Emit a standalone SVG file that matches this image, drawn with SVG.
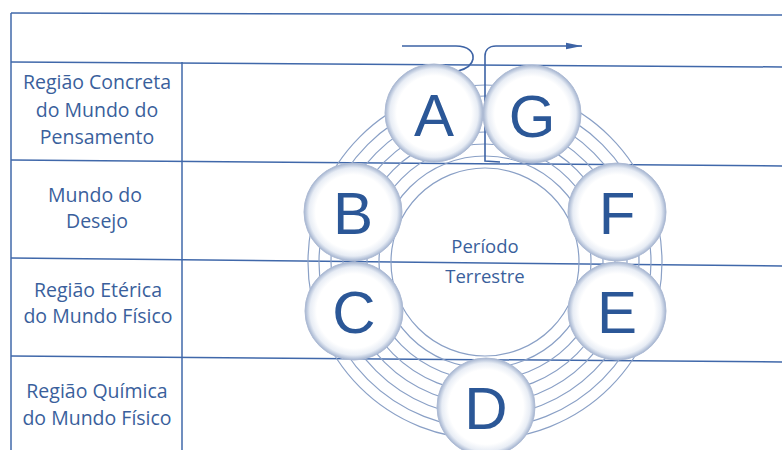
<svg xmlns="http://www.w3.org/2000/svg" width="782" height="450" viewBox="0 0 782 450">
<style>
.tl{stroke:#4068aa;stroke-width:1.5;fill:none}
.ring{stroke:#8aa0c6;stroke-width:1.2;fill:none}
.lab{font-family:"Open Sans","Noto Sans",sans-serif;font-size:19.5px;fill:#3a5f9c;text-anchor:middle}
.ctr{font-family:"Open Sans","Noto Sans",sans-serif;font-size:18.5px;fill:#3a5f9c;text-anchor:middle}
.ball{fill:url(#bg);stroke:#aebbd4;stroke-width:1}
.let{font-family:"Liberation Sans",Arial,sans-serif;font-size:60px;fill:#2b5797;text-anchor:middle}
.con{stroke:#3d63a5;stroke-width:1.6;fill:none}
</style>
<defs>
<radialGradient id="bg" cx="0.5" cy="0.5" r="0.5">
<stop offset="0" stop-color="#ffffff"/>
<stop offset="0.76" stop-color="#ffffff"/>
<stop offset="0.9" stop-color="#e8edf5"/>
<stop offset="1" stop-color="#a4b4d0"/>
</radialGradient>
<marker id="ah" viewBox="0 0 16 8" refX="16" refY="4" markerWidth="16" markerHeight="8" markerUnits="userSpaceOnUse" orient="auto">
<path d="M0,0.8 L16,4 L0,7.2 Z" fill="#3d63a5"/>
</marker>
</defs>
<rect width="782" height="450" fill="#ffffff"/>
<g id="table">
<line class="tl" x1="11" y1="13" x2="782" y2="15"/>
<line class="tl" x1="11" y1="62" x2="782" y2="67"/>
<line class="tl" x1="11" y1="160" x2="782" y2="166"/>
<line class="tl" x1="11" y1="258" x2="782" y2="266"/>
<line class="tl" x1="11" y1="356" x2="782" y2="362"/>
<line class="tl" x1="11" y1="13" x2="11" y2="450"/>
<line class="tl" x1="182" y1="62" x2="182" y2="450"/>
</g>
<g id="label-concreta">
<text class="lab" x="97" y="89">Região Concreta</text>
<text class="lab" x="97" y="117">do Mundo do</text>
<text class="lab" x="97" y="144">Pensamento</text>
</g>
<g id="label-desejo">
<text class="lab" x="95" y="202">Mundo do</text>
<text class="lab" x="97" y="228">Desejo</text>
</g>
<g id="label-eterica">
<text class="lab" x="98" y="297">Região Etérica</text>
<text class="lab" x="98" y="323">do Mundo Físico</text>
</g>
<g id="label-quimica">
<text class="lab" x="97" y="398">Região Química</text>
<text class="lab" x="97" y="425">do Mundo Físico</text>
</g>
<g id="rings">
<circle class="ring" cx="485" cy="262" r="94"/>
<circle class="ring" cx="485" cy="262" r="106"/>
<circle class="ring" cx="485" cy="262" r="118"/>
<circle class="ring" cx="485" cy="262" r="130"/>
<circle class="ring" cx="485" cy="262" r="142"/>
<circle class="ring" cx="485" cy="262" r="154"/>
<circle class="ring" cx="485" cy="262" r="166"/>
<circle class="ring" cx="485" cy="262" r="177"/>
</g>
<g id="center-label">
<text class="ctr" x="485" y="253">Período</text>
<text class="ctr" x="485" y="283">Terrestre</text>
</g>
<g id="connectors">
<path class="con" d="M402,46 H456 C468,46 474,52 473,59 C472,65 466,69 458,71"/>
<path class="con" d="M500,162 L485,161 V56 C485,50 489,46 496,46 H582" marker-end="url(#ah)"/>
</g>
<g id="node-A"><circle class="ball" cx="434" cy="113" r="49"/><text class="let" x="434" y="136">A</text></g>
<g id="node-G"><circle class="ball" cx="532" cy="114" r="49"/><text class="let" x="532" y="137">G</text></g>
<g id="node-B"><circle class="ball" cx="353" cy="212" r="49"/><text class="let" x="353" y="234">B</text></g>
<g id="node-F"><circle class="ball" cx="617" cy="212" r="49"/><text class="let" x="617" y="234">F</text></g>
<g id="node-C"><circle class="ball" cx="354" cy="311" r="49"/><text class="let" x="354" y="333">C</text></g>
<g id="node-E"><circle class="ball" cx="617" cy="311" r="49"/><text class="let" x="617" y="333">E</text></g>
<g id="node-D"><circle class="ball" cx="486" cy="407" r="49"/><text class="let" x="486" y="429">D</text></g>
</svg>
